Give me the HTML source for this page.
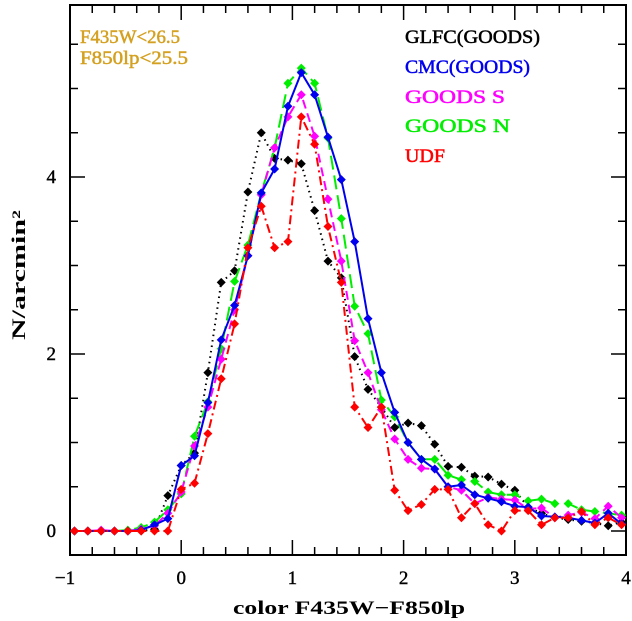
<!DOCTYPE html>
<html><head><meta charset="utf-8">
<style>
html,body{margin:0;padding:0;background:#fff;}
svg{display:block;font-family:"Liberation Serif",serif;}
</style></head>
<body>
<svg id="chart" width="632" height="621" viewBox="0 0 632 621" xmlns="http://www.w3.org/2000/svg"></svg>
<script>
const xTicks = [-1, 0, 1, 2, 3, 4];
const yTicks = [0, 2, 4];
const binCenters = [-0.96,-0.84,-0.72,-0.60,-0.48,-0.36,-0.24,-0.12,0.00,0.12,0.24,0.36,0.48,0.60,0.72,0.84,0.96,1.08,1.20,1.32,1.44,1.56,1.68,1.80,1.92,2.04,2.16,2.28,2.40,2.52,2.64,2.76,2.88,3.00,3.12,3.24,3.36,3.48,3.60,3.72,3.84,3.96];
const glfc = [0,0,0,0,0,0,0.02,0.40,0.74,0.88,1.79,2.81,2.94,3.83,4.50,4.21,4.19,4.15,3.62,3.05,2.86,1.97,1.60,1.40,1.17,1.22,1.19,0.98,0.73,0.72,0.62,0.61,0.53,0.46,0.27,0.20,0.15,0.13,0.11,0.09,0.06,0.10];
const cmc = [0,0,0,0,0,0.01,0.07,0.14,0.74,0.85,1.45,2.16,2.55,3.11,3.82,4.09,4.80,5.18,4.93,4.45,3.97,3.27,2.40,1.79,1.34,1.00,0.81,0.70,0.50,0.52,0.41,0.37,0.33,0.28,0.27,0.17,0.16,0.15,0.12,0.09,0.20,0.08];
const goodsS = [0,0,0.01,0,0,0.02,0.06,0.20,0.44,0.96,1.40,1.94,2.50,3.11,3.80,4.33,4.68,4.93,4.46,3.75,3.05,2.15,1.79,1.37,1.04,0.81,0.71,0.70,0.50,0.46,0.31,0.38,0.36,0.35,0.25,0.26,0.15,0.18,0.21,0.14,0.28,0.15];
const goodsN = [0,0,0,0,0.01,0.04,0.10,0.24,0.42,1.07,1.46,2.06,2.82,3.23,3.82,4.33,5.06,5.23,5.06,4.44,3.53,2.54,2.23,1.48,1.29,1.00,0.81,0.81,0.63,0.58,0.56,0.44,0.41,0.41,0.34,0.36,0.31,0.31,0.24,0.22,0.20,0.18];
const udf = [0,0,0,0,0,0,0,0,0.47,0.54,1.10,1.72,2.34,3.20,3.67,3.20,3.27,4.68,4.37,3.44,2.81,1.40,1.17,1.40,0.46,0.23,0.30,0.47,0.47,0.15,0.31,0.07,0.00,0.23,0.23,0.07,0.15,0.15,0.22,0.07,0.15,0.07];
const seriesNames = ["GLFC(GOODS)","CMC(GOODS)","GOODS S","GOODS N","UDF"];

const svg = document.getElementById('chart');
const NS = 'http://www.w3.org/2000/svg';
const L=70, R=626, T=5, B=555;
const X0=-1, X1=4;
function sx(v){return L+(v-X0)/(X1-X0)*(R-L);}
function sy(v){return 531-v*88.5;}
function mk(tag, attrs){const e=document.createElementNS(NS,tag);for(const k in attrs)e.setAttribute(k,attrs[k]);svg.appendChild(e);return e;}

const frame = mk('rect',{x:L,y:T,width:R-L,height:B-T,fill:'none',stroke:'#000','stroke-width':2});



for(let v=-1; v<=4.001; v+=0.2){
  const major = Math.abs(v-Math.round(v))<1e-6;
  const len = major?15:8;
  const x=sx(v);
  const t1=mk('line',{x1:x,y1:B,x2:x,y2:B-len,stroke:'#000','stroke-width':1.5});
  
  
  const t2=mk('line',{x1:x,y1:T,x2:x,y2:T+len,stroke:'#000','stroke-width':1.5});
  
  
}
xTicks.forEach(v=>{
  const t=mk('text',{x:sx(v)+(v<0?-5:0),y:584,'font-size':19,'text-anchor':'middle',stroke:'#000','stroke-width':0.4});
  t.textContent = v<0 ? '\u2212'+Math.abs(v) : String(v);
  
  
});
for(let v=0; v<=5.9; v+=0.5){
  const major = Math.abs(v/2-Math.round(v/2))<1e-6;
  const len = major?15:8;
  const y=sy(v);
  const t1=mk('line',{x1:L,y1:y,x2:L+len,y2:y,stroke:'#000','stroke-width':1.5});
  
  
  const t2=mk('line',{x1:R,y1:y,x2:R-len,y2:y,stroke:'#000','stroke-width':1.5});
  
  
}
yTicks.forEach(v=>{
  const t=mk('text',{x:56,y:sy(v)+6,'font-size':19,'text-anchor':'end',stroke:'#000','stroke-width':0.4});
  t.textContent=String(v);
  
  
});
const xt=mk('text',{x:233,y:614,'font-size':19,'font-weight':'bold',textLength:232,lengthAdjust:'spacingAndGlyphs'});
xt.textContent='color F435W\u2212F850lp';


const yt=mk('text',{x:0,y:0,'font-size':19,'font-weight':'bold',textLength:130,lengthAdjust:'spacingAndGlyphs',transform:'translate(25,340) rotate(-90)'});
yt.textContent='N/arcmin\u00B2';



const styles=[
  {data:glfc,color:'#000000',dash:'1.5,4',name:'series-glfc'},
  {data:goodsN,color:'#00ee00',dash:'14,6',name:'series-goods-n'},
  {data:goodsS,color:'#ff00ff',dash:'9,5',name:'series-goods-s'},
  {data:cmc,color:'#0000ee',dash:'',name:'series-cmc'},
  {data:udf,color:'#ff0000',dash:'9,4,2,4',name:'series-udf'}
];
styles.forEach(s=>{
  const pts=s.data.map((v,i)=>sx(binCenters[i]).toFixed(1)+','+sy(v).toFixed(1));
  const pl=mk('polyline',{points:pts.join(' '),fill:'none',stroke:s.color,'stroke-width':2,'stroke-dasharray':s.dash||'none','stroke-linejoin':'round'});
  
  
  s.data.forEach((v,i)=>{
    const x=sx(binCenters[i]), y=sy(v), d=4.5;
    const m=mk('polygon',{points:`${x},${y-d} ${x+d},${y} ${x},${y+d} ${x-d},${y}`,fill:s.color});
    
    
  });
});

const legendColors=['#000000','#0000ee','#ff00ff','#00ee00','#ff0000'];
const legendY=[43,73,103,132,162];
const legendW=[135,125,100,105,40];
seriesNames.forEach((n,i)=>{
  const t=mk('text',{x:405,y:legendY[i],'font-size':19,fill:legendColors[i],stroke:legendColors[i],'stroke-width':0.5,textLength:legendW[i],lengthAdjust:'spacingAndGlyphs'});
  t.textContent=n;
  
  
});
const c1=mk('text',{x:80,y:43,'font-size':19,fill:'#d4a020',stroke:'#d4a020','stroke-width':0.5,textLength:100,lengthAdjust:'spacingAndGlyphs'});
c1.textContent='F435W<26.5';


const c2=mk('text',{x:80,y:64,'font-size':19,fill:'#d4a020',stroke:'#d4a020','stroke-width':0.5,textLength:108,lengthAdjust:'spacingAndGlyphs'});
c2.textContent='F850lp<25.5';


</script>
</body></html>
